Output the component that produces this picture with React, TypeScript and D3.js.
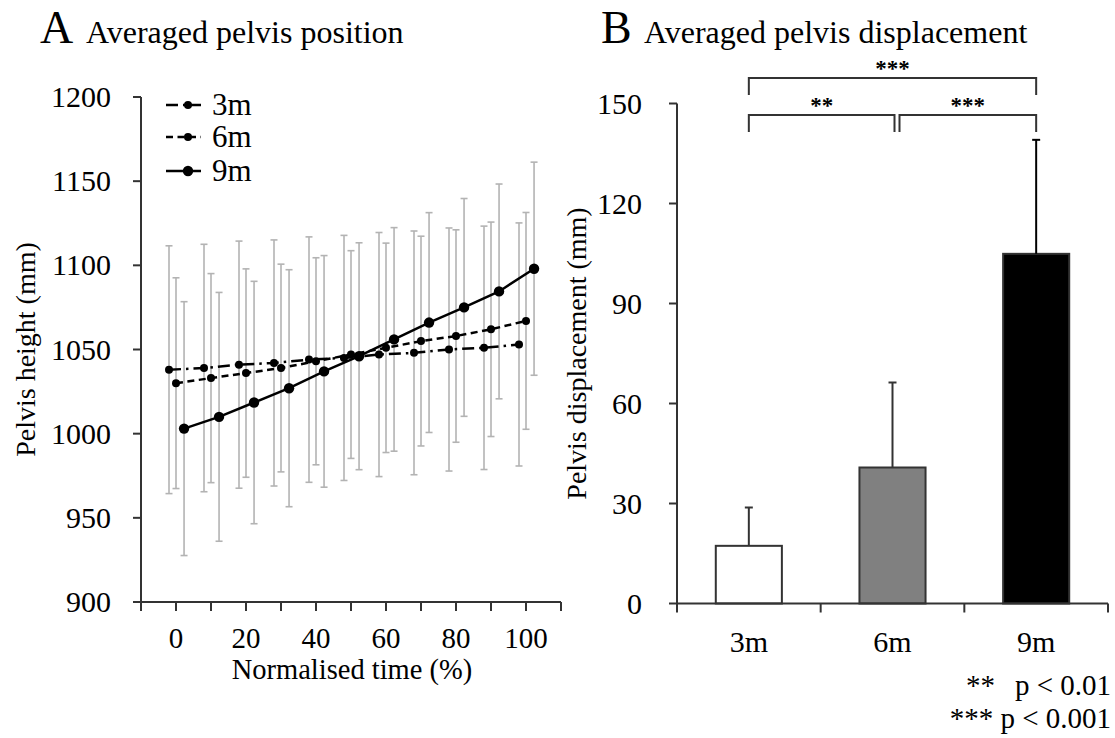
import React from 'react';
import * as d3 from 'd3';

// ---------- Panel A data ----------
const times = [0, 10, 20, 30, 40, 50, 60, 70, 80, 90, 100];
const seriesNames = ['3m', '6m', '9m'];
const mean3m = [1038, 1039, 1041, 1042, 1044, 1045, 1047, 1048, 1050, 1051, 1053];
const sd3m = [73.6, 73.5, 73.4, 73.1, 72.9, 72.8, 72.5, 72.4, 72.2, 72.3, 72.2];
const mean6m = [1030, 1033, 1036, 1039, 1043, 1047, 1051, 1055, 1058, 1062, 1067];
const sd6m = [62.6, 62.1, 61.9, 61.7, 61.5, 61.7, 62.2, 62.3, 63.1, 63.7, 64.4];
const mean9m = [1003, 1010, 1018.5, 1027, 1037, 1046, 1056, 1066, 1075, 1084.5, 1098];
const sd9m = [75.4, 73.9, 72.0, 70.4, 68.8, 67.4, 66.4, 65.3, 64.7, 63.8, 63.3];
const yTicksA = [900, 950, 1000, 1050, 1100, 1150, 1200];
const xTickMarksA = [-10, 0, 10, 20, 30, 40, 50, 60, 70, 80, 90, 100, 110];
const xTickLabelsA = [0, 20, 40, 60, 80, 100];

// ---------- Panel B data ----------
const barCategories = ['3m', '6m', '9m'];
const barMeans = [17.3, 40.8, 104.9];
const barSDs = [11.5, 25.5, 34.2];
const yTicksB = [0, 30, 60, 90, 120, 150];
const sigPairs = [
  { from: 0, to: 1, label: '**', level: 0 },
  { from: 1, to: 2, label: '***', level: 0 },
  { from: 0, to: 2, label: '***', level: 1 },
];

const FONT = "'Liberation Serif', 'Times New Roman', Times, serif";
const AXIS = '#333';

export default function App() {
  // Panel A scales
  const xA = d3.scaleLinear().domain([-10, 110]).range([141, 561]);
  const yA = d3.scaleLinear().domain([900, 1200]).range([602, 97]);
  const seriesData = [
    { name: seriesNames[0], mean: mean3m, sd: sd3m, dx: -2, dash: '12,5,2.5,5', r: 4 },
    { name: seriesNames[1], mean: mean6m, sd: sd6m, dx: 0, dash: '7,4.5', r: 4 },
    { name: seriesNames[2], mean: mean9m, sd: sd9m, dx: 2.3, dash: null as string | null, r: 5.2 },
  ];

  // Panel B scales
  const xB = d3.scaleBand<string>().domain(barCategories).range([677, 1108]).paddingInner(0.54).paddingOuter(0.27);
  const yB = d3.scaleLinear().domain([0, 150]).range([603.5, 103.5]);
  const step = xB.step();
  const bStart = 677;
  const bEnd = 1108;
  const barFills = ['#ffffff', '#808080', '#000000'];
  const cx = (c: string) => (xB(c) as number) + xB.bandwidth() / 2;

  return (
    <svg
      width={1115}
      height={738}
      style={{ position: 'absolute', left: 0, top: 0, background: '#fff' }}
      fontFamily={FONT}
    >
      <rect x={0} y={0} width={1115} height={738} fill="#fff" />

      {/* ---------------- Panel A ---------------- */}
      <text x={40} y={43} fontSize={46} fill="#000">A</text>
      <text x={86} y={43} fontSize={32} fill="#000">Averaged pelvis position</text>

      {/* error bars */}
      {seriesData.map((s) =>
        s.mean.map((m, i) => {
          const x = xA(times[i] + s.dx);
          const y1 = yA(m + s.sd[i]);
          const y2 = yA(m - s.sd[i]);
          return (
            <g key={s.name + i} stroke="#b3b3b3" strokeWidth={1.6}>
              <line x1={x} x2={x} y1={y1} y2={y2} />
              <line x1={x - 3.5} x2={x + 3.5} y1={y1} y2={y1} />
              <line x1={x - 3.5} x2={x + 3.5} y1={y2} y2={y2} />
            </g>
          );
        })
      )}

      {/* lines */}
      {seriesData.map((s) => {
        const path = d3
          .line<number>()
          .x((_, i) => xA(times[i] + s.dx))
          .y((d) => yA(d))(s.mean) as string;
        return (
          <g key={s.name}>
            <path d={path} fill="none" stroke="#000" strokeWidth={2.5} strokeDasharray={s.dash || undefined} />
            {s.mean.map((m, i) => (
              <circle key={i} cx={xA(times[i] + s.dx)} cy={yA(m)} r={s.r} fill="#000" />
            ))}
          </g>
        );
      })}

      {/* axes A */}
      <line x1={xA(-10)} x2={xA(-10)} y1={yA(1200)} y2={yA(900)} stroke={AXIS} strokeWidth={2} />
      <line x1={xA(-10)} x2={xA(110)} y1={yA(900)} y2={yA(900)} stroke={AXIS} strokeWidth={2} />
      {yTicksA.map((t) => (
        <g key={t}>
          <line x1={xA(-10) - 8} x2={xA(-10)} y1={yA(t)} y2={yA(t)} stroke={AXIS} strokeWidth={2} />
          <text x={111} y={yA(t) + 10} fontSize={30} textAnchor="end" fill="#000">{t}</text>
        </g>
      ))}
      {xTickMarksA.map((t) => (
        <line key={t} x1={xA(t)} x2={xA(t)} y1={yA(900)} y2={yA(900) + 9} stroke={AXIS} strokeWidth={2} />
      ))}
      {xTickLabelsA.map((t) => (
        <text key={t} x={xA(t)} y={648} fontSize={29} textAnchor="middle" fill="#000">{t}</text>
      ))}
      <text x={352} y={679} fontSize={28.5} textAnchor="middle" fill="#000">Normalised time (%)</text>
      <text
        transform={`translate(35, ${(yA(900) + yA(1200)) / 2}) rotate(-90)`}
        fontSize={28}
        textAnchor="middle"
        fill="#000"
      >
        Pelvis height (mm)
      </text>

      {/* legend A */}
      {seriesData.map((s, k) => {
        const ly = [105, 137, 171][k];
        return (
          <g key={'leg' + s.name}>
            <line x1={166} x2={201} y1={ly} y2={ly} stroke="#000" strokeWidth={2.5} strokeDasharray={s.dash || undefined} />
            <circle cx={188} cy={ly} r={s.r} fill="#000" />
            <text x={212} y={ly + 10} fontSize={31} fill="#000">{s.name}</text>
          </g>
        );
      })}

      {/* ---------------- Panel B ---------------- */}
      <text x={601} y={43} fontSize={46} fill="#000">B</text>
      <text x={644} y={43} fontSize={32} fill="#000">Averaged pelvis displacement</text>

      {/* bars */}
      {barCategories.map((c, i) => (
        <rect
          key={c}
          x={xB(c)}
          y={yB(barMeans[i])}
          width={xB.bandwidth()}
          height={yB(0) - yB(barMeans[i])}
          fill={barFills[i]}
          stroke={AXIS}
          strokeWidth={2}
        />
      ))}
      {/* error bars B */}
      {barCategories.map((c, i) => {
        const x = cx(c);
        const yTop = yB(barMeans[i] + barSDs[i]);
        return (
          <g key={'e' + c} stroke={i === 2 ? '#000' : AXIS} strokeWidth={2}>
            <line x1={x} x2={x} y1={yB(barMeans[i])} y2={yTop} />
            <line x1={x - 4} x2={x + 4} y1={yTop} y2={yTop} />
          </g>
        );
      })}

      {/* axes B */}
      <line x1={bStart} x2={bStart} y1={yB(150)} y2={yB(0)} stroke={AXIS} strokeWidth={2} />
      <line x1={bStart} x2={bEnd} y1={yB(0)} y2={yB(0)} stroke={AXIS} strokeWidth={2} />
      {yTicksB.map((t) => (
        <g key={t}>
          <line x1={bStart - 8} x2={bStart} y1={yB(t)} y2={yB(t)} stroke={AXIS} strokeWidth={2} />
          <text x={642} y={yB(t) + 10} fontSize={30} textAnchor="end" fill="#000">{t}</text>
        </g>
      ))}
      {[0, 1, 2, 3].map((k) => (
        <line key={k} x1={bStart + k * step} x2={bStart + k * step} y1={yB(0)} y2={yB(0) + 9} stroke={AXIS} strokeWidth={2} />
      ))}
      {barCategories.map((c) => (
        <text key={'l' + c} x={cx(c)} y={652} fontSize={30} textAnchor="middle" fill="#000">{c}</text>
      ))}
      <text
        transform={`translate(586, ${(yB(0) + yB(150)) / 2}) rotate(-90)`}
        fontSize={28}
        textAnchor="middle"
        fill="#000"
      >
        Pelvis displacement (mm)
      </text>

      {/* significance brackets */}
      {sigPairs.map((p, k) => {
        const barY = p.level === 0 ? 115 : 78;
        const legY = barY + 17;
        let x1 = cx(barCategories[p.from]);
        let x2 = cx(barCategories[p.to]);
        if (p.level === 0 && p.to === 1) x2 += 2;
        if (p.level === 0 && p.from === 1) x1 += 7;
        return (
          <g key={k}>
            <path
              d={`M${x1},${legY}V${barY}H${x2}V${legY}`}
              fill="none"
              stroke={AXIS}
              strokeWidth={2}
            />
            <text x={(x1 + x2) / 2} y={barY - 2} fontSize={23} fontWeight="bold" textAnchor="middle" fill="#000">
              {p.label}
            </text>
          </g>
        );
      })}

      {/* footnote */}
      <text x={995} y={695} fontSize={29} textAnchor="end" fill="#000">**</text>
      <text x={1111} y={695} fontSize={29} textAnchor="end" fill="#000">p &lt; 0.01</text>
      <text x={1111} y={728} fontSize={29} textAnchor="end" fill="#000">*** p &lt; 0.001</text>
    </svg>
  );
}
